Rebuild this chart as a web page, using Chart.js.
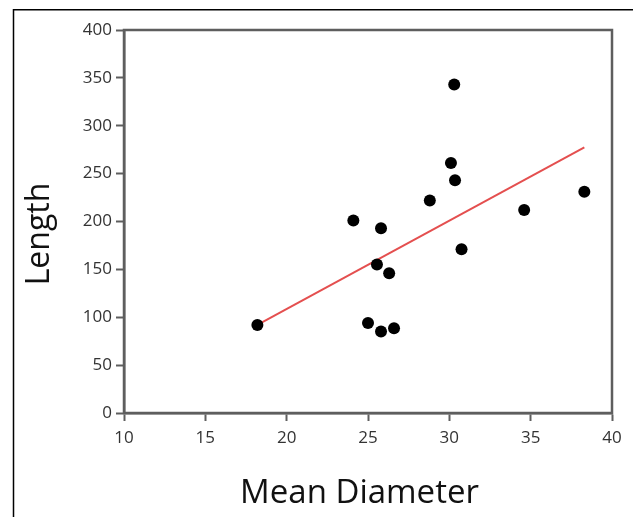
<!DOCTYPE html>
<html>
<head>
<meta charset="utf-8">
<script src="https://cdn.jsdelivr.net/npm/chart.js@4"></script>
<style>
  html, body { margin: 0; padding: 0; background: #ffffff; }
  #c { display: block; }
</style>
</head>
<body>
<canvas id="c" width="633" height="517"></canvas>
<script>
// ---- data ----
const meanDiameter = [18.2, 24.1, 25.8, 25.55, 26.3, 25.0, 25.8, 26.6, 28.8, 30.1, 30.35, 30.3, 30.75, 34.6, 38.3];
const lengthValues = [92, 201, 193, 155, 146, 94, 85, 88.5, 222, 261, 243, 343, 171, 212, 231];
const fitLineX = [18.2, 38.3];
const fitLineY = [92, 277.5];
const xTickValues = [10, 15, 20, 25, 30, 35, 40];
const yTickValues = [0, 50, 100, 150, 200, 250, 300, 350, 400];
const xTitle = 'Mean Diameter';
const yTitle = 'Length';

const frameColor = '#5e5e5e';
const FONT = "'Open Sans', 'DejaVu Sans', sans-serif";

const points = meanDiameter.map((x, i) => ({ x: x, y: lengthValues[i] }));
const fit = fitLineX.map((x, i) => ({ x: x, y: fitLineY[i] }));

const framePlugin = {
  id: 'frame',
  beforeDraw(chart) {
    const ctx = chart.ctx;
    ctx.save();
    ctx.strokeStyle = '#000000';
    ctx.lineWidth = 1.5;
    ctx.beginPath();
    ctx.moveTo(13.5, 520);
    ctx.lineTo(13.5, 9.75);
    ctx.lineTo(640, 9.75);
    ctx.stroke();
    ctx.restore();
  },
  afterDatasetsDraw(chart) {
    const a = chart.chartArea;
    const ctx = chart.ctx;
    ctx.save();
    ctx.strokeStyle = frameColor;
    ctx.lineWidth = 2.5;
    ctx.strokeRect(a.left, a.top, a.right - a.left, a.bottom - a.top);
    ctx.restore();
  },
  afterDraw(chart) {
    const ctx = chart.ctx;
    const a = chart.chartArea;
    ctx.save();
    ctx.fillStyle = '#111111';
    ctx.textAlign = 'center';
    ctx.textBaseline = 'alphabetic';
    ctx.font = '33px ' + FONT;
    ctx.fillText(xTitle, (a.left + a.right) / 2 - 8.5, 503);
    ctx.translate(48.5, (a.top + a.bottom) / 2 + 12.5);
    ctx.rotate(-Math.PI / 2);
    ctx.font = '32px ' + FONT;
    ctx.fillText(yTitle, 0, 0);
    ctx.restore();
  }
};

new Chart(document.getElementById('c'), {
  type: 'scatter',
  data: {
    datasets: [
      {
        label: 'Observed',
        data: points,
        order: 0,
        backgroundColor: '#000000',
        borderColor: '#000000',
        pointRadius: 6,
        pointHoverRadius: 6,
        borderWidth: 0
      },
      {
        type: 'line',
        label: 'Fit',
        data: fit,
        order: 1,
        borderColor: '#e44f4f',
        borderWidth: 2,
        pointRadius: 0,
        fill: false,
        tension: 0
      }
    ]
  },
  options: {
    responsive: false,
    animation: false,
    events: [],
    layout: { padding: { left: 14, right: 21, top: 30, bottom: 0 } },
    plugins: {
      legend: { display: false },
      tooltip: { enabled: false },
      title: { display: false }
    },
    scales: {
      x: {
        type: 'linear',
        min: 10,
        max: 40,
        afterBuildTicks(scale) { scale.ticks = xTickValues.map(v => ({ value: v })); },
        afterFit(scale) { scale.height = 104; },
        grid: {
          display: true,
          drawOnChartArea: false,
          drawTicks: true,
          tickLength: 8,
          tickWidth: 2,
          tickColor: frameColor,
          color: frameColor
        },
        border: { display: true, color: frameColor, width: 2.5 },
        ticks: {
          color: '#333333',
          padding: 7,
          maxRotation: 0,
          font: { family: FONT, size: 17 }
        },
        title: { display: false, text: xTitle }
      },
      y: {
        type: 'linear',
        min: 0,
        max: 400,
        afterBuildTicks(scale) { scale.ticks = yTickValues.map(v => ({ value: v })); },
        afterFit(scale) { scale.width = 110; },
        grid: {
          display: true,
          drawOnChartArea: false,
          drawTicks: true,
          tickLength: 8,
          tickWidth: 2,
          tickColor: frameColor,
          color: frameColor
        },
        border: { display: true, color: frameColor, width: 2.5 },
        ticks: {
          color: '#333333',
          padding: 4,
          font: { family: FONT, size: 17 }
        },
        title: { display: false, text: yTitle }
      }
    }
  },
  plugins: [framePlugin]
});
</script>
</body>
</html>
